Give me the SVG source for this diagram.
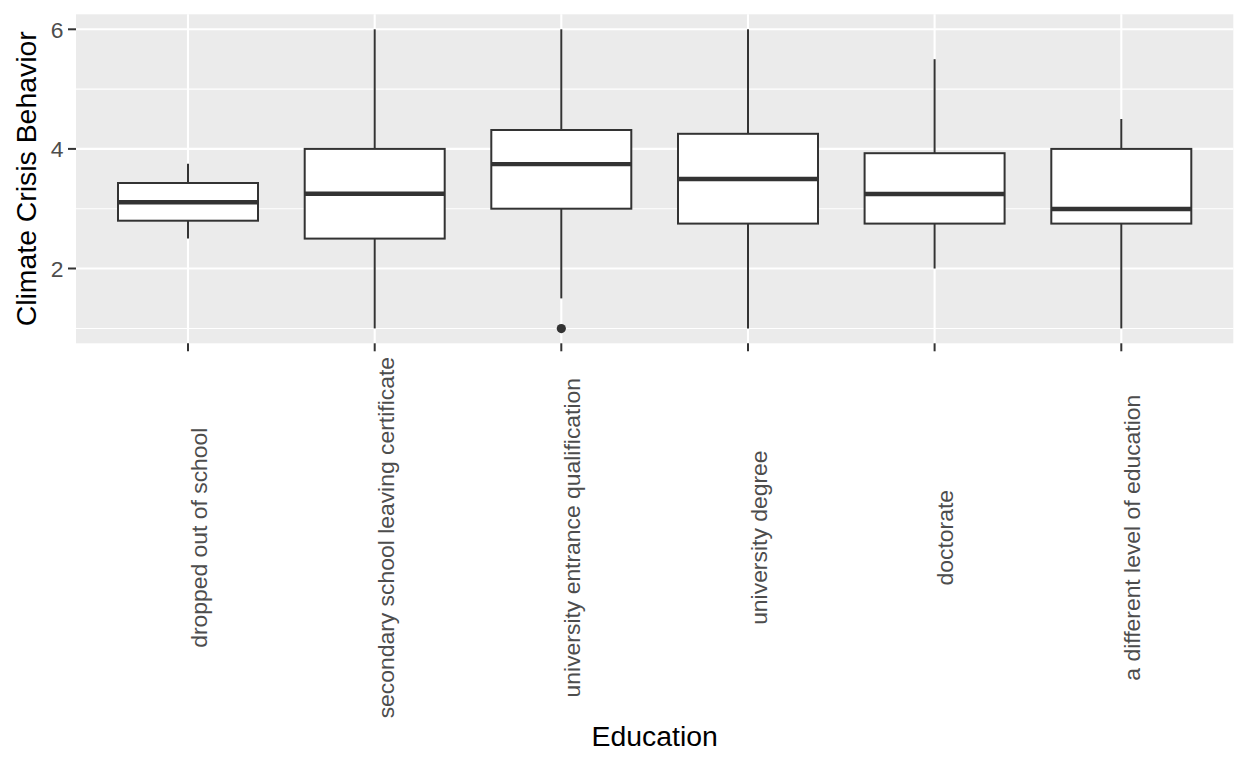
<svg xmlns="http://www.w3.org/2000/svg" width="1248" height="768" viewBox="0 0 1248 768">
<style>
.gmaj{stroke:#FFFFFF;stroke-width:2.1;fill:none}
.gmin{stroke:#FFFFFF;stroke-width:1.05;fill:none}
.box{fill:#FFFFFF;stroke:#333333;stroke-width:2}
.wh{stroke:#333333;stroke-width:2;fill:none}
.med{stroke:#333333;stroke-width:4.4;fill:none}
.tick{stroke:#333333;stroke-width:2;fill:none}
.yl{font-family:"Liberation Sans",Arial,sans-serif;font-size:22.9px;fill:#4D4D4D;text-anchor:end}
.xl{font-family:"Liberation Sans",Arial,sans-serif;font-size:22.9px;fill:#4D4D4D;text-anchor:middle}
.ttl{font-family:"Liberation Sans",Arial,sans-serif;font-size:28.4px;fill:#000000;text-anchor:middle}
</style>
<rect x="0" y="0" width="1248" height="768" fill="#FFFFFF"/>
<g id="panel">
<rect x="76" y="14.3" width="1157.3" height="329" fill="#EBEBEB"/>
<line class="gmin" x1="76" y1="89.1" x2="1233.3" y2="89.1"/>
<line class="gmin" x1="76" y1="208.7" x2="1233.3" y2="208.7"/>
<line class="gmin" x1="76" y1="328.4" x2="1233.3" y2="328.4"/>
<line class="gmaj" x1="76" y1="29.3" x2="1233.3" y2="29.3"/>
<line class="gmaj" x1="76" y1="148.9" x2="1233.3" y2="148.9"/>
<line class="gmaj" x1="76" y1="268.5" x2="1233.3" y2="268.5"/>
<line class="gmaj" x1="188" y1="14.3" x2="188" y2="343.3"/>
<line class="gmaj" x1="374.7" y1="14.3" x2="374.7" y2="343.3"/>
<line class="gmaj" x1="561.3" y1="14.3" x2="561.3" y2="343.3"/>
<line class="gmaj" x1="748" y1="14.3" x2="748" y2="343.3"/>
<line class="gmaj" x1="934.6" y1="14.3" x2="934.6" y2="343.3"/>
<line class="gmaj" x1="1121.3" y1="14.3" x2="1121.3" y2="343.3"/>
</g>
<g id="box-dropped-out-of-school">
<line class="wh" x1="188" y1="163.8" x2="188" y2="183"/>
<line class="wh" x1="188" y1="220.7" x2="188" y2="238.6"/>
<rect class="box" x="118" y="183" width="140" height="37.7"/>
<line class="med" x1="118" y1="202.3" x2="258" y2="202.3"/>
</g>
<g id="box-secondary-school">
<line class="wh" x1="374.7" y1="29.3" x2="374.7" y2="148.9"/>
<line class="wh" x1="374.7" y1="238.6" x2="374.7" y2="328.4"/>
<rect class="box" x="304.7" y="148.9" width="140" height="89.7"/>
<line class="med" x1="304.7" y1="193.8" x2="444.7" y2="193.8"/>
</g>
<g id="box-university-entrance">
<line class="wh" x1="561.3" y1="29.3" x2="561.3" y2="130"/>
<line class="wh" x1="561.3" y1="208.7" x2="561.3" y2="298.4"/>
<rect class="box" x="491.3" y="130" width="140" height="78.7"/>
<line class="med" x1="491.3" y1="164.1" x2="631.3" y2="164.1"/>
<circle cx="561.3" cy="328.6" r="4.6" fill="#333333"/>
</g>
<g id="box-university-degree">
<line class="wh" x1="748" y1="29.3" x2="748" y2="133.8"/>
<line class="wh" x1="748" y1="223.6" x2="748" y2="328.4"/>
<rect class="box" x="678" y="133.8" width="140" height="89.8"/>
<line class="med" x1="678" y1="179" x2="818" y2="179"/>
</g>
<g id="box-doctorate">
<line class="wh" x1="934.6" y1="59.2" x2="934.6" y2="153.2"/>
<line class="wh" x1="934.6" y1="223.6" x2="934.6" y2="268.5"/>
<rect class="box" x="864.6" y="153.2" width="140" height="70.4"/>
<line class="med" x1="864.6" y1="194" x2="1004.6" y2="194"/>
</g>
<g id="box-different-level">
<line class="wh" x1="1121.3" y1="119" x2="1121.3" y2="148.9"/>
<line class="wh" x1="1121.3" y1="223.6" x2="1121.3" y2="328.4"/>
<rect class="box" x="1051.3" y="148.9" width="140" height="74.7"/>
<line class="med" x1="1051.3" y1="209" x2="1191.3" y2="209"/>
</g>
<g id="y-axis">
<line class="tick" x1="68" y1="29.3" x2="76" y2="29.3"/>
<line class="tick" x1="68" y1="148.9" x2="76" y2="148.9"/>
<line class="tick" x1="68" y1="268.5" x2="76" y2="268.5"/>
<text class="yl" x="63.5" y="37.5">6</text>
<text class="yl" x="63.5" y="157.1">4</text>
<text class="yl" x="63.5" y="276.7">2</text>
<text class="ttl" transform="translate(36,178.8) rotate(-90)">Climate Crisis Behavior</text>
</g>
<g id="x-axis">
<line class="tick" x1="188" y1="343.3" x2="188" y2="351.3"/>
<line class="tick" x1="374.7" y1="343.3" x2="374.7" y2="351.3"/>
<line class="tick" x1="561.3" y1="343.3" x2="561.3" y2="351.3"/>
<line class="tick" x1="748" y1="343.3" x2="748" y2="351.3"/>
<line class="tick" x1="934.6" y1="343.3" x2="934.6" y2="351.3"/>
<line class="tick" x1="1121.3" y1="343.3" x2="1121.3" y2="351.3"/>
<text class="xl" transform="translate(207.3,537.7) rotate(-90)">dropped out of school</text>
<text class="xl" transform="translate(393.5,537.7) rotate(-90)">secondary school leaving certificate</text>
<text class="xl" transform="translate(580.1,537.7) rotate(-90)">university entrance qualification</text>
<text class="xl" transform="translate(766.8,537.7) rotate(-90)">university degree</text>
<text class="xl" transform="translate(953.4,537.7) rotate(-90)">doctorate</text>
<text class="xl" transform="translate(1140.1,537.7) rotate(-90)">a different level of education</text>
<text class="ttl" x="654.7" y="745.7">Education</text>
</g>
</svg>
